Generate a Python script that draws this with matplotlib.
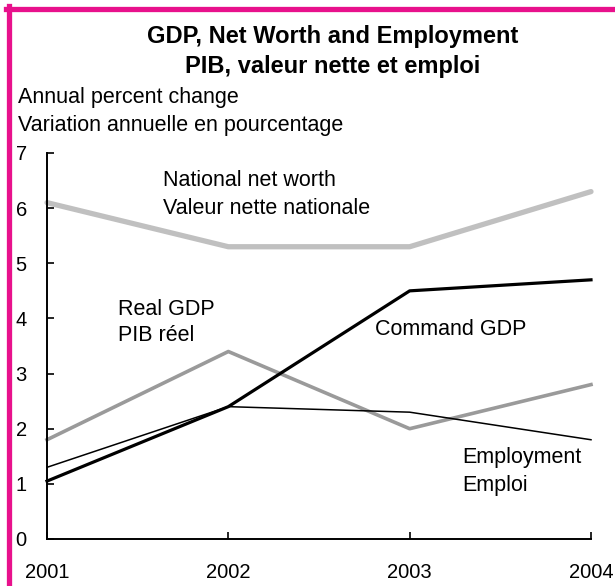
import matplotlib.pyplot as plt
from matplotlib.lines import Line2D

plt.rcParams['font.family'] = ['Liberation Sans', 'DejaVu Sans']

years = [2001, 2002, 2003, 2004]
net_worth = [6.1, 5.3, 5.3, 6.3]
real_gdp = [1.8, 3.4, 2.0, 2.8]
command_gdp = [1.05, 2.4, 4.5, 4.7]
employment = [1.3, 2.4, 2.3, 1.8]
y_ticks = [0, 1, 2, 3, 4, 5, 6, 7]

W, H = 615, 586
fig = plt.figure(figsize=(W / 100, H / 100), dpi=100)
ax = fig.add_axes([47 / W, 1 - 539 / H, 544 / W, 386 / H])

ax.plot(years, net_worth, color='#c0c0c0', lw=3.8, solid_capstyle='round', clip_on=False)
ax.plot(years, real_gdp, color='#9a9a9a', lw=2.6, clip_on=False)
ax.plot(years, employment, color='black', lw=1.1, clip_on=False)
ax.plot(years, command_gdp, color='black', lw=2.3, clip_on=False)

ax.set_xlim(2001, 2004)
ax.set_ylim(0, 7)
ax.set_xticks(years)
ax.set_yticks(y_ticks)
for s in ['top', 'right']:
    ax.spines[s].set_visible(False)
for s in ['left', 'bottom']:
    ax.spines[s].set_linewidth(1.4)
ax.tick_params(direction='in', length=5, width=1.2, labelsize=14.5)
ax.tick_params(axis='y', pad=14.5)
ax.tick_params(axis='x', pad=17)

# series labels
lab = dict(fontsize=15.5, va='center', ha='left')
ax.text(2001.64, 6.50, 'National net worth', **lab)
ax.text(2001.64, 6.00, 'Valeur nette nationale', **lab)
ax.text(2001.39, 4.17, 'Real GDP', **lab)
ax.text(2001.39, 3.69, 'PIB réel', **lab)
ax.text(2002.81, 3.80, 'Command GDP', **lab)
ax.text(2003.29, 1.47, 'Employment', **lab)
ax.text(2003.29, 0.97, 'Emploi', **lab)

fig.text(333 / W, 1 - 37 / H, 'GDP, Net Worth and Employment', fontsize=17,
         fontweight='bold', ha='center', va='center')
fig.text(333 / W, 1 - 67 / H, 'PIB, valeur nette et emploi', fontsize=17,
         fontweight='bold', ha='center', va='center')
fig.text(18 / W, 1 - 97 / H, 'Annual percent change', fontsize=15.5, va='center')
fig.text(18 / W, 1 - 125 / H, 'Variation annuelle en pourcentage', fontsize=15.5, va='center')

# magenta frame on the top and left edges
pink = '#e8118c'
fig.add_artist(Line2D([8.5 / W, 8.5 / W], [0, 1 - 6 / H], color=pink, lw=3.8,
                      transform=fig.transFigure))
fig.add_artist(Line2D([6 / W, 1], [1 - 8.5 / H, 1 - 8.5 / H], color=pink, lw=3.8,
                      transform=fig.transFigure))

fig.savefig('out.png', dpi=100)
